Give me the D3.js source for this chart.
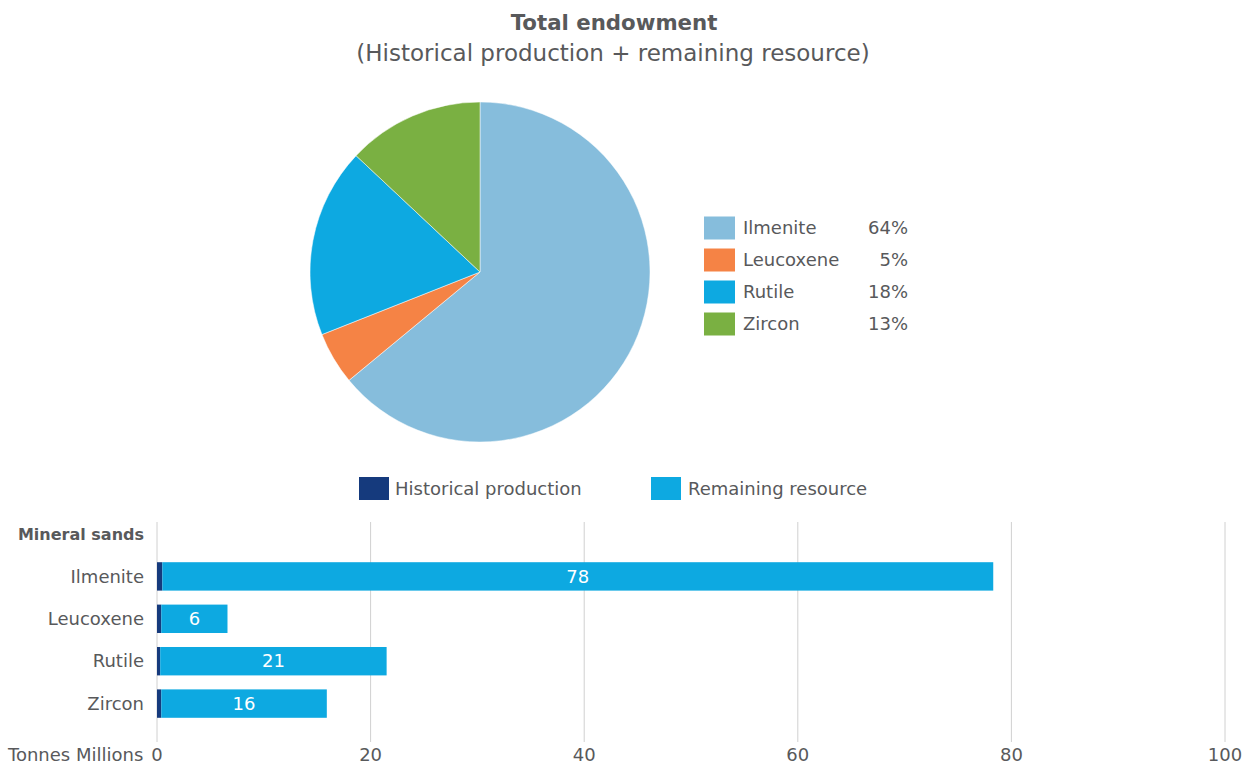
<!DOCTYPE html>
<html><head><meta charset="utf-8">
<script src="https://cdn.jsdelivr.net/npm/d3@7"></script>
<style>body{margin:0;background:#fff}svg{display:block}text{font-family:"DejaVu Sans",sans-serif;fill:#58595b}</style>
</head><body>
<svg id="c" width="1248" height="765"></svg>
<script>
const minerals = ["Ilmenite","Leucoxene","Rutile","Zircon"];
const piePercent = [64,5,18,13];
const pieColors = ["#86BDDC","#F58345","#0DA9E1","#7AB042"];
const historical = [0.5,0.4,0.3,0.4];
const remaining = [77.8,6.2,21.2,15.5];
const xTicks = [0,20,40,60,80,100];
const seriesNames = ["Historical production","Remaining resource"];
const seriesColors = ["#153A7D","#0DA9E1"];

const svg = d3.select("#c");
const fs = 18;

// Titles
svg.append("text").attr("x",614).attr("y",30).attr("text-anchor","middle")
  .style("font-size","21.3px").style("font-weight","bold").text("Total endowment");
svg.append("text").attr("x",613).attr("y",61).attr("text-anchor","middle")
  .style("font-size","23px").text("(Historical production + remaining resource)");

// Pie
const pie = d3.pie().sort(null).value(d=>d)(piePercent);
const arc = d3.arc().innerRadius(0).outerRadius(170);
const pg = svg.append("g").attr("transform","translate(480,272)");
pg.selectAll("path").data(pie).join("path").attr("d",arc)
  .attr("fill",(d,i)=>pieColors[i]).attr("stroke","#fff").attr("stroke-width",0.5);

// Pie legend
const lg = svg.append("g");
minerals.forEach((m,i)=>{
  const cy = 228 + i*32;
  lg.append("rect").attr("x",704).attr("y",cy-11.5).attr("width",31).attr("height",23).attr("fill",pieColors[i]);
  lg.append("text").attr("x",743).attr("y",cy).attr("dy","0.35em").style("font-size",fs).text(m);
  lg.append("text").attr("x",908).attr("y",cy).attr("dy","0.35em").attr("text-anchor","end").style("font-size",fs).text(piePercent[i]+"%");
});

// Bar legend
const bl = [[359,395],[651,688]];
seriesNames.forEach((s,i)=>{
  svg.append("rect").attr("x",bl[i][0]).attr("y",477).attr("width",30).attr("height",23).attr("fill",seriesColors[i]);
  svg.append("text").attr("x",bl[i][1]).attr("y",489).attr("dy","0.35em").style("font-size",fs).text(s);
});

// Bar chart
const x = d3.scaleLinear().domain([0,100]).range([157,1225]);
const y = d3.scaleBand().domain(minerals).range([555,725]).paddingInner(0.33).paddingOuter(0.17);

const grid = svg.append("g");
grid.selectAll("line").data(xTicks).join("line")
  .attr("x1",d=>x(d)).attr("x2",d=>x(d)).attr("y1",522).attr("y2",742)
  .attr("stroke","#d0d0d0").attr("stroke-width",1);
svg.append("g").selectAll("text").data(xTicks).join("text")
  .attr("x",d=>x(d)).attr("y",755).attr("dy","0.35em").attr("text-anchor","middle")
  .style("font-size",fs).text(d=>d);
svg.append("text").attr("x",8).attr("y",755).attr("dy","0.35em").style("font-size",fs).text("Tonnes Millions");
svg.append("text").attr("x",144).attr("y",534).attr("dy","0.35em").attr("text-anchor","end")
  .style("font-size",16).style("font-weight","bold").text("Mineral sands");

const bars = svg.append("g");
minerals.forEach((m,i)=>{
  const yy = y(m), h = y.bandwidth();
  bars.append("rect").attr("x",x(0)).attr("y",yy).attr("width",x(historical[i])-x(0)).attr("height",h).attr("fill",seriesColors[0]);
  bars.append("rect").attr("x",x(historical[i])).attr("y",yy).attr("width",x(historical[i]+remaining[i])-x(historical[i])).attr("height",h).attr("fill",seriesColors[1]);
  bars.append("text").attr("x",(x(historical[i])+x(historical[i]+remaining[i]))/2).attr("y",yy+h/2).attr("dy","0.35em")
    .attr("text-anchor","middle").style("font-size",fs).style("fill","#fff").text(d3.format(".0f")(remaining[i]));
  svg.append("text").attr("x",144).attr("y",yy+h/2).attr("dy","0.35em").attr("text-anchor","end").style("font-size",fs).text(m);
});
</script>
</body></html>
